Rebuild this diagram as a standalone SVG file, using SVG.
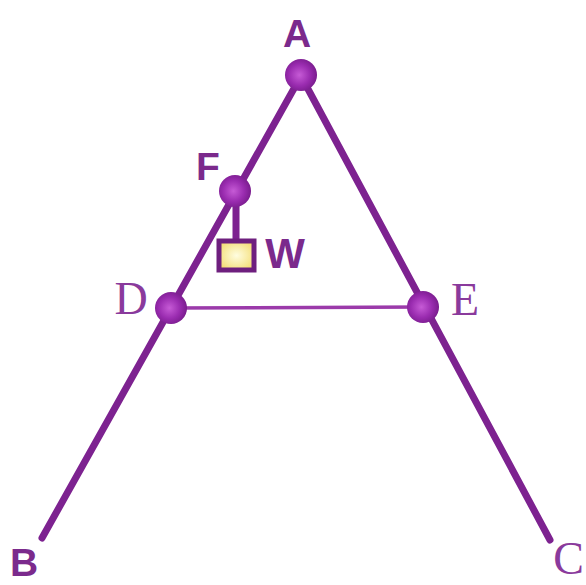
<svg xmlns="http://www.w3.org/2000/svg" width="586" height="585" viewBox="0 0 586 585">
<defs>
<radialGradient id="ball" cx="0.45" cy="0.5" r="0.55">
<stop offset="0" stop-color="#c65bd6"/>
<stop offset="0.6" stop-color="#9a2cb0"/>
<stop offset="1" stop-color="#7a1c8e"/>
</radialGradient>
<radialGradient id="wt" cx="0.5" cy="0.5" r="0.6">
<stop offset="0" stop-color="#fffde0"/>
<stop offset="1" stop-color="#f3dc70"/>
</radialGradient>
<style>
.ln{stroke:#7d2290;stroke-width:7;stroke-linecap:round;fill:none}
.thin{stroke:#9b3aaa;stroke-width:3.5;fill:none}
.pt{fill:url(#ball)}
.sans{font-family:"Liberation Sans",Arial,sans-serif;font-weight:bold;font-size:39px;fill:#7b2a8c}
.serif{font-family:"Liberation Serif","Times New Roman",serif;font-size:46px;fill:#8a3a9c}
</style>
</defs>
<rect width="586" height="585" fill="#ffffff"/>
<g id="connectors">
<line class="ln" x1="301" y1="76" x2="42" y2="538"/>
<line class="ln" x1="301" y1="76" x2="550" y2="540"/>
<line class="thin" x1="171" y1="308" x2="423" y2="307"/>
<line class="ln" x1="236" y1="192" x2="236" y2="240" stroke-width="5"/>
</g>
<g id="A"><circle class="pt" cx="301" cy="75" r="16"/><text class="sans" x="297" y="47" text-anchor="middle">A</text></g>
<g id="F"><circle class="pt" cx="235" cy="191" r="16"/><text class="sans" x="208" y="180" text-anchor="middle">F</text></g>
<g id="W"><rect x="219" y="241" width="35" height="29" fill="url(#wt)" stroke="#6e1f7e" stroke-width="5"/><text class="sans" x="285" y="268" text-anchor="middle" style="font-size:42px">W</text></g>
<g id="D"><circle class="pt" cx="171" cy="308" r="16"/><text class="serif" x="131" y="314" text-anchor="middle">D</text></g>
<g id="E"><circle class="pt" cx="423" cy="307" r="16"/><text class="serif" x="465" y="315" text-anchor="middle">E</text></g>
<g id="B"><text class="sans" x="24" y="576" text-anchor="middle">B</text></g>
<g id="C"><text class="serif" x="584" y="574" text-anchor="end">C</text></g>
</svg>
